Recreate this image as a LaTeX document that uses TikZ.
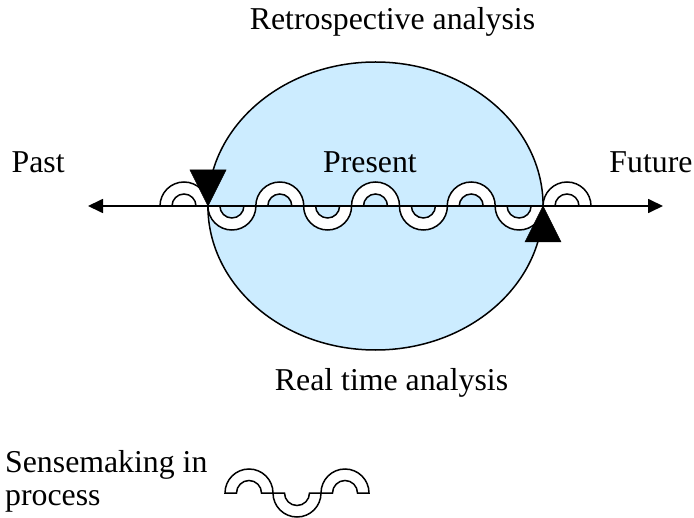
\documentclass[tikz,border=0pt]{standalone}
\usepackage{fontspec}
\setmainfont{Liberation Serif}
\usetikzlibrary{arrows.meta}
\definecolor{presentblue}{HTML}{CCECFF}
\tikzset{
  lbl/.style={inner sep=0pt, font=\fontsize{31.8bp}{33bp}\selectfont},
  annulus/.style={draw=black, fill=white, line width=1.5bp},
  marker/.style={fill=black, draw=black, line width=0.5bp},
  timeline/.style={line width=1.7bp, {Triangle[length=15bp,width=14bp]}-{Triangle[length=15bp,width=14bp]}}
}
\begin{document}
\begin{tikzpicture}[x=1bp,y=-1bp]
\useasboundingbox (0,0) rectangle (694,518);
% present ellipse
\draw[fill=presentblue, line width=1.5bp] (375.5,206) ellipse [x radius=167.6, y radius=144];
% sensemaking loops along the time line
\foreach \cx/\s in {184/1, 231.9/-1, 279.8/1, 327.6/-1, 375.5/1, 423.4/-1, 471.2/1, 519.1/-1, 567/1}{
  \draw[annulus] (\cx-24,206) arc[start angle=180, delta angle=\s*180, radius=24]
    -- (\cx+12,206) arc[start angle=0, delta angle=-\s*180, radius=12] -- cycle;
}
% time line
\coordinate (pastend) at (88,206);
\coordinate (futend) at (663,206);
\draw[timeline] (pastend) -- (futend);
% markers
\fill[marker] (190,170) -- (226,170) -- (208,206) -- cycle;
\fill[marker] (543,206) -- (561,242) -- (525,242) -- cycle;
% labels
\node[lbl, anchor=base] (retro) at (392.5,30) {Retrospective analysis};
\node[lbl, anchor=base west] (past) at (11.5,173) {Past};
\node[lbl, anchor=base] (present) at (370,173) {Present};
\node[lbl, anchor=base] (future) at (651,173) {Future};
\node[lbl, anchor=base] (realtime) at (391.5,390) {Real time analysis};
\node[lbl, anchor=base west] (legend1) at (5,472) {Sensemaking in};
\node[lbl, anchor=base west] (legend2) at (5,505) {process};
% legend symbol
\foreach \cx/\s in {249/1, 297/-1, 345/1}{
  \draw[annulus] (\cx-24,493) arc[start angle=180, delta angle=\s*180, radius=24]
    -- (\cx+12.5,493) arc[start angle=0, delta angle=-\s*180, radius=12.5] -- cycle;
}
\end{tikzpicture}
\end{document}
